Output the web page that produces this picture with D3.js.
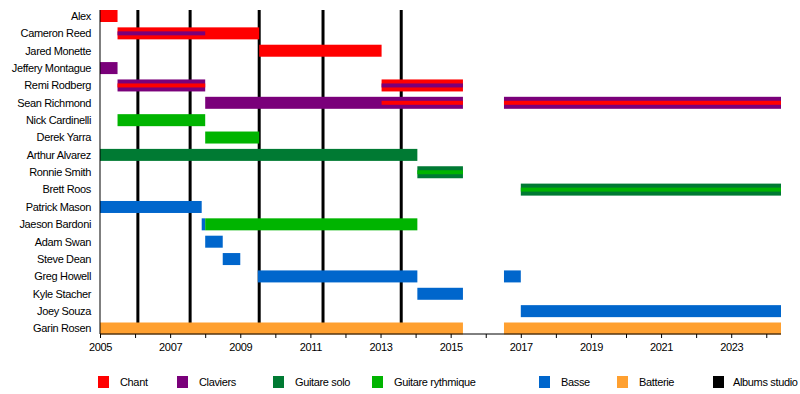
<!DOCTYPE html>
<html>
<head>
<meta charset="UTF-8">
<title>Timeline</title>
<script src="https://d3js.org/d3.v7.min.js"></script>
<style>
  body { margin: 0; background: #fff; }
  text { font-family: "Liberation Sans", Arial, sans-serif; letter-spacing: -0.35px; }
</style>
</head>
<body>
<script>
// membres, de haut en bas
var members = ["Alex", "Cameron Reed", "Jared Monette", "Jeffery Montague", "Remi Rodberg",
  "Sean Richmond", "Nick Cardinelli", "Derek Yarra", "Arthur Alvarez", "Ronnie Smith",
  "Brett Roos", "Patrick Mason", "Jaeson Bardoni", "Adam Swan", "Steve Dean",
  "Greg Howell", "Kyle Stacher", "Joey Souza", "Garin Rosen"]

var roles = ["Chant", "Claviers", "Guitare solo", "Guitare rythmique", "Basse", "Batterie", "Albums studio"]
var roleColors = ["#ff0000", "#7a007a", "#007a33", "#00b400", "#0066cc", "#ffa030", "#000000"]

// [membre, rôle, début, fin]
var periods = [
  ["Alex", "Chant", 2005.0, 2005.5],
  ["Cameron Reed", "Chant", 2005.5, 2009.54],
  ["Jared Monette", "Chant", 2009.54, 2013.03],
  ["Jeffery Montague", "Claviers", 2005.0, 2005.5],
  ["Remi Rodberg", "Claviers", 2005.5, 2008.0],
  ["Remi Rodberg", "Chant", 2013.03, 2015.35],
  ["Sean Richmond", "Claviers", 2008.0, 2015.35],
  ["Sean Richmond", "Claviers", 2016.52, 2024.42],
  ["Nick Cardinelli", "Guitare rythmique", 2005.5, 2008.0],
  ["Derek Yarra", "Guitare rythmique", 2008.0, 2009.54],
  ["Arthur Alvarez", "Guitare solo", 2005.0, 2014.05],
  ["Ronnie Smith", "Guitare solo", 2014.05, 2015.35],
  ["Brett Roos", "Guitare solo", 2017.0, 2024.42],
  ["Patrick Mason", "Basse", 2005.0, 2007.9],
  ["Jaeson Bardoni", "Basse", 2007.9, 2008.0],
  ["Jaeson Bardoni", "Guitare rythmique", 2008.0, 2014.05],
  ["Adam Swan", "Basse", 2008.0, 2008.5],
  ["Steve Dean", "Basse", 2008.5, 2009.0],
  ["Greg Howell", "Basse", 2009.5, 2014.05],
  ["Greg Howell", "Basse", 2016.52, 2017.0],
  ["Kyle Stacher", "Basse", 2014.05, 2015.35],
  ["Joey Souza", "Basse", 2017.0, 2024.42],
  ["Garin Rosen", "Batterie", 2005.0, 2015.35],
  ["Garin Rosen", "Batterie", 2016.52, 2024.42]
]

// rôle secondaire : bande fine au milieu de la barre
var stripes = [
  ["Cameron Reed", "Claviers", 2005.5, 2008.0],
  ["Remi Rodberg", "Chant", 2005.5, 2008.0],
  ["Remi Rodberg", "Claviers", 2013.03, 2015.35],
  ["Sean Richmond", "Chant", 2013.03, 2015.35],
  ["Sean Richmond", "Chant", 2016.52, 2024.42],
  ["Ronnie Smith", "Guitare rythmique", 2014.05, 2015.35],
  ["Brett Roos", "Guitare rythmique", 2017.0, 2024.42]
]

var albums = [2006.08, 2007.57, 2009.54, 2011.36, 2013.59]
var tickYears = d3.range(2005, 2025)

var width = 800
var height = 394
var plotTop = 10
var plotBottom = 334
var barHeight = 12
var stripeHeight = 4

var svg = d3.select("body").append("svg")
  .attr("width", width)
  .attr("height", height)

var x = d3.scaleLinear().domain([2005, 2024.42]).range([100, 781])
var y = d3.scalePoint().domain(members).range([16, 328.5])
var color = d3.scaleOrdinal().domain(roles).range(roleColors)

// lignes des albums (derrière les barres)
svg.append("g").selectAll("line").data(albums).enter().append("line")
  .attr("x1", function(d) { return x(d) })
  .attr("x2", function(d) { return x(d) })
  .attr("y1", plotTop)
  .attr("y2", plotBottom)
  .attr("stroke", "#000")
  .attr("stroke-width", 3)

svg.append("g").selectAll("rect").data(periods).enter().append("rect")
  .attr("x", function(d) { return x(d[2]) })
  .attr("y", function(d) { return y(d[0]) - barHeight / 2 })
  .attr("width", function(d) { return x(d[3]) - x(d[2]) })
  .attr("height", barHeight)
  .attr("fill", function(d) { return color(d[1]) })

svg.append("g").selectAll("rect").data(stripes).enter().append("rect")
  .attr("x", function(d) { return x(d[2]) })
  .attr("y", function(d) { return y(d[0]) - stripeHeight / 2 })
  .attr("width", function(d) { return x(d[3]) - x(d[2]) })
  .attr("height", stripeHeight)
  .attr("fill", function(d) { return color(d[1]) })

// noms
svg.append("g").selectAll("text").data(members).enter().append("text")
  .attr("x", 91)
  .attr("y", function(d) { return y(d) })
  .attr("dy", "0.35em")
  .attr("text-anchor", "end")
  .attr("font-size", "11px")
  .attr("fill", "#000")
  .text(function(d) { return d })

// axe vertical
svg.append("line")
  .attr("x1", 100).attr("x2", 100)
  .attr("y1", plotTop).attr("y2", plotBottom)
  .attr("stroke", "#000")

// axe du temps
var xAxis = d3.axisBottom(x)
  .tickValues(tickYears)
  .tickSize(4)
  .tickSizeOuter(0)
  .tickFormat(function(d) { return (d - 2005) % 2 === 0 ? d : "" })

var gx = svg.append("g")
  .attr("transform", "translate(0," + plotBottom + ")")
  .call(xAxis)
gx.select(".domain").attr("d", "M100,0H781")
gx.selectAll("text")
  .attr("font-size", "11px")
  .attr("font-family", "Liberation Sans, Arial, sans-serif")
  .attr("fill", "#000")
  .attr("y", 9)

// légende
var legendX = [98, 177, 273, 372, 539, 617, 713]
var legend = svg.append("g").selectAll("g").data(roles).enter().append("g")
  .attr("transform", function(d, i) { return "translate(" + legendX[i] + ",376)" })
legend.append("rect")
  .attr("width", 11)
  .attr("height", 12)
  .attr("fill", function(d) { return color(d) })
legend.append("text")
  .attr("x", function(d, i) { return i === roles.length - 1 ? 20 : 22 })
  .attr("y", 6)
  .attr("dy", "0.35em")
  .attr("font-size", "11px")
  .attr("fill", "#000")
  .text(function(d) { return d })
</script>
</body>
</html>
